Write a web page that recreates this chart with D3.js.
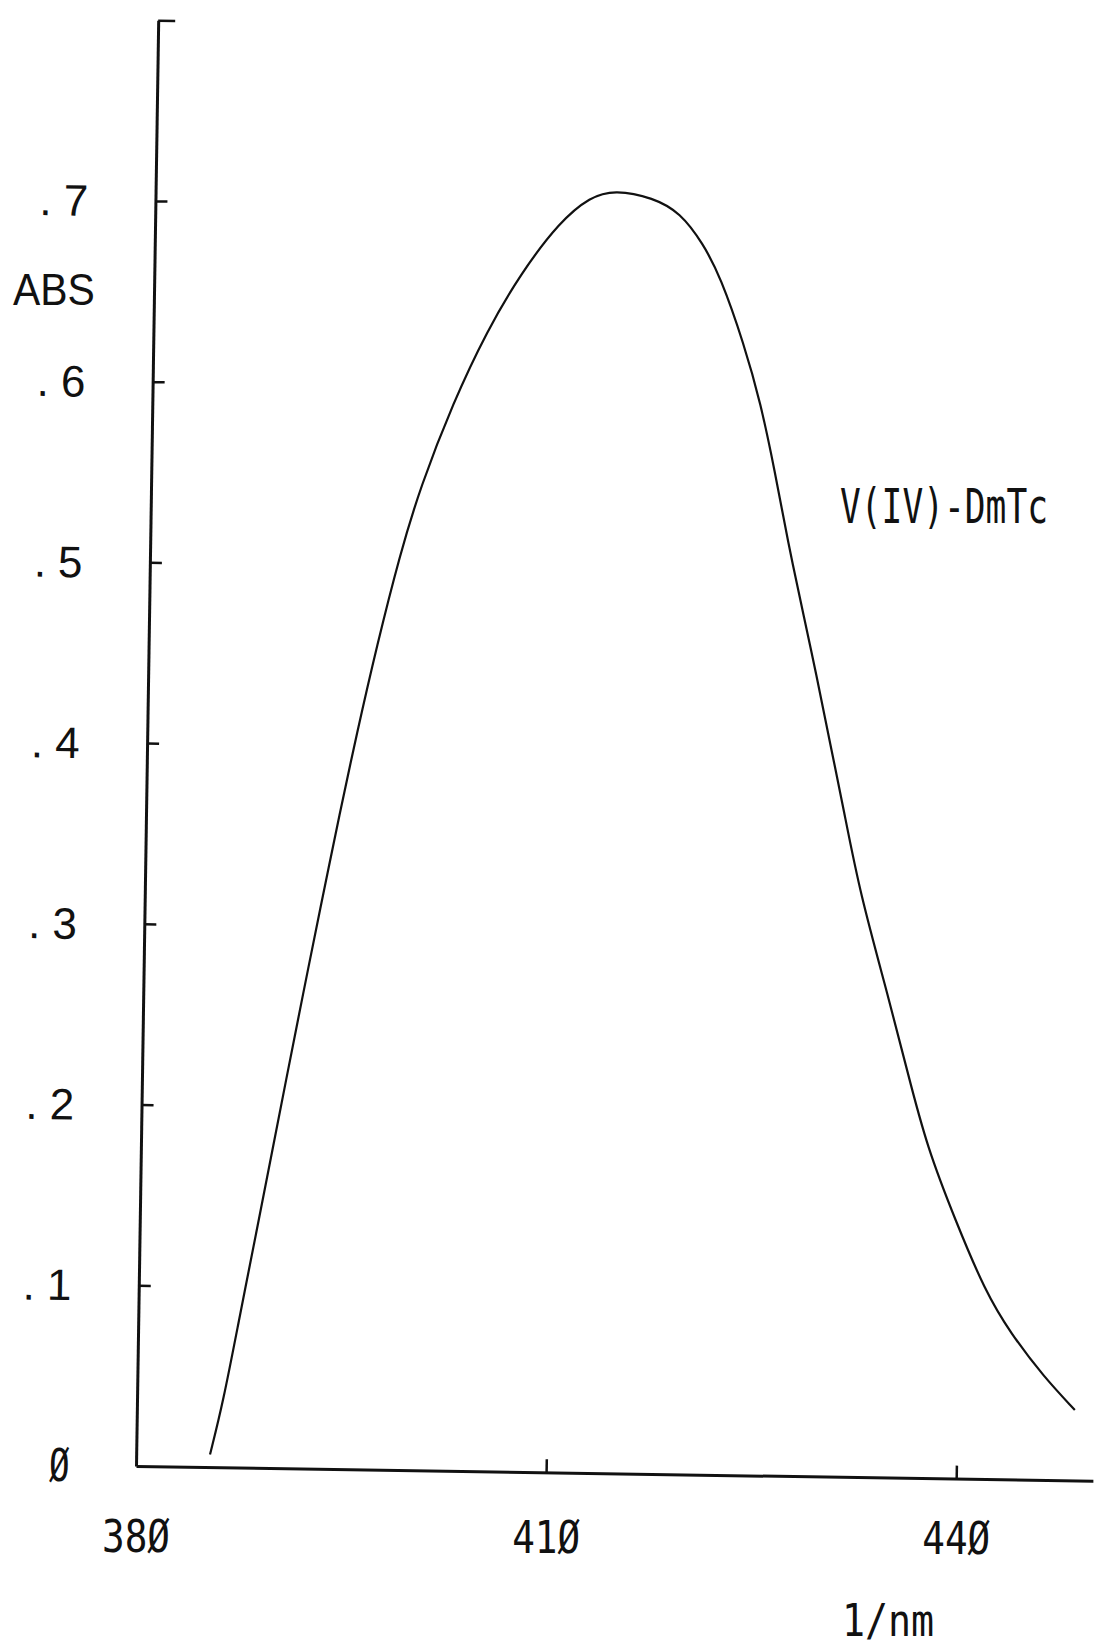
<!DOCTYPE html>
<html lang="en">
<head>
  <meta charset="UTF-8">
  <title>V(IV)-DmTc absorption spectrum</title>
  <script src="https://d3js.org/d3.v7.min.js"></script>
  <style>
    body { margin: 0; background: #fff; }
    .plotter { font-family: "DejaVu Sans Mono", monospace; fill: #111; }
    .ylab { font-family: "Liberation Sans", Arial, sans-serif; fill: #111; }
  </style>
</head>
<body>
  <script>
    // Spectrum (wavelength in nm, absorbance)
    const wavelength = [385.4, 386.3, 387.4, 388.7, 389.6, 390.5, 391.7, 392.8, 394.2, 395.3,
                        396.7, 398.3, 399.7, 402.0, 404.4, 406.8, 409.6, 411.8, 413.6, 416.4,
                        418.4, 420.1, 421.4, 423.2, 424.5, 425.6, 426.6, 428.0, 428.8, 430.0,
                        431.0, 432.3, 434.5, 436.0, 437.5, 439.7, 441.9, 443.8, 446.3, 448.6];
    const absorbance = [0.007, 0.036, 0.083, 0.137, 0.175, 0.213, 0.263, 0.308, 0.364, 0.406,
                        0.456, 0.507, 0.544, 0.591, 0.631, 0.663, 0.692, 0.706, 0.710, 0.706,
                        0.698, 0.681, 0.663, 0.626, 0.593, 0.556, 0.518, 0.472, 0.446, 0.404,
                        0.370, 0.323, 0.266, 0.224, 0.183, 0.142, 0.104, 0.081, 0.057, 0.039];

    // Axes
    const yTicks = [0.1, 0.2, 0.3, 0.4, 0.5, 0.6, 0.7];
    const yTickLabels = [".1", ".2", ".3", ".4", ".5", ".6", ".7"];
    const xTicks = [410, 440];
    const xLabelValues = [380, 410, 440];
    const xTickLabels = ["38Ø", "41Ø", "44Ø"];
    const seriesName = "V(IV)-DmTc";

    const width = 1098, height = 1647;
    const svg = d3.select("body").append("svg")
      .attr("width", width)
      .attr("height", height);
    svg.append("rect").attr("width", width).attr("height", height).attr("fill", "#fff");

    const x = d3.scaleLinear().domain([380, 450]).range([136, 1093]);
    const y = d3.scaleLinear().domain([0, 0.8]).range([1466, 20]);

    // the scanned sheet is turned slightly clockwise
    const plot = svg.append("g")
      .attr("transform", `rotate(0.88,${x(380)},${y(0)})`)
      .attr("color", "#111");

    // y axis, ticks point inward, bracket at the top
    plot.append("g")
      .attr("transform", `translate(${x(380)},0)`)
      .call(d3.axisRight(y).tickValues([...yTicks, 0.8]).tickSize(12).tickSizeOuter(0).tickFormat(""))
      .call(g => g.select(".domain").attr("stroke-width", 3))
      .call(g => g.selectAll(".tick line").attr("stroke-width", 2.5))
      .call(g => g.selectAll(".tick").filter(d => d === 0.8).select("line").attr("x2", 17));

    // x axis, ticks point up
    plot.append("g")
      .attr("transform", `translate(0,${y(0)})`)
      .call(d3.axisTop(x).tickValues(xTicks).tickSize(13).tickSizeOuter(0).tickFormat(""))
      .call(g => g.select(".domain").attr("stroke-width", 3))
      .call(g => g.selectAll(".tick line").attr("stroke-width", 2.5));

    // spectrum
    const line = d3.line()
      .x(d => x(d[0]))
      .y(d => y(d[1]))
      .curve(d3.curveBasis);

    plot.append("path")
      .datum(d3.zip(wavelength, absorbance))
      .attr("fill", "none")
      .attr("stroke", "#111")
      .attr("stroke-width", 2.2)
      .attr("stroke-linejoin", "round")
      .attr("d", line);

    // y tick labels follow the tilted axis
    plot.append("g").selectAll("text")
      .data(yTicks)
      .join("text")
      .attr("class", "ylab")
      .attr("x", 20)
      .attr("y", d => y(d) + 16)
      .attr("font-size", 44)
      .attr("letter-spacing", 12)
      .text((d, i) => yTickLabels[i]);

    svg.append("text")
      .attr("class", "ylab")
      .attr("transform", "translate(13,305) scale(0.93,1)")
      .attr("font-size", 44)
      .text("ABS");

    // plotter-style labels: a narrow mono face
    function plotterText(px, py, sx, size, str) {
      return svg.append("text")
        .attr("class", "plotter")
        .attr("transform", `translate(${px},${py}) scale(${sx},1)`)
        .attr("font-size", size)
        .text(str);
    }

    plotterText(49, y(0) + 15, 0.78, 44, "Ø");

    xLabelValues.forEach((v, i) => plotterText(x(v) - 34, 1552 + i, 0.855, 44, xTickLabels[i]));

    plotterText(842, 1636, 0.87, 44, "1/nm");
    plotterText(840, 523, 0.72, 48, seriesName);
  </script>
</body>
</html>
